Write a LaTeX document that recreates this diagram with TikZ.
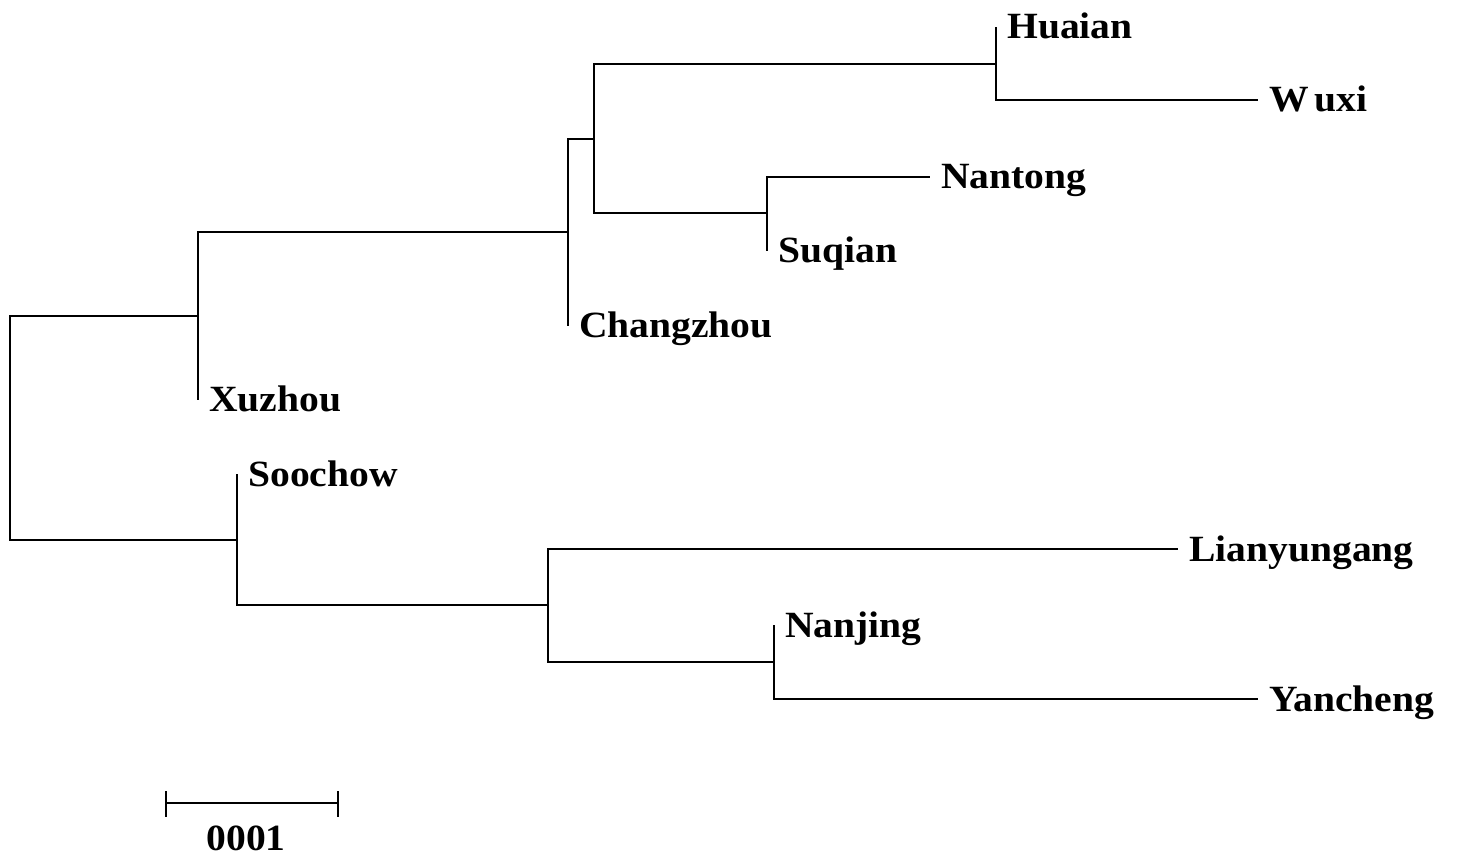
\documentclass[tikz,border=0pt]{standalone}
\usepackage{fontspec}
\setmainfont{Liberation Serif}[FakeStretch=1.07]
\begin{document}
\begin{tikzpicture}[x=1pt,y=-1pt,
  branch/.style={line width=1.9pt,line join=miter},
  lbl/.style={anchor=base west,inner sep=0pt,xshift=11pt,yshift=-12pt,
    font=\fontsize{37}{40}\selectfont\bfseries},
  sclbl/.style={anchor=base,inner sep=0pt,font=\fontsize{37}{40}\selectfont\bfseries}]
\useasboundingbox (0,0) rectangle (1457,858);
% internal nodes (x = distance, y = midpoint of the clade)
\coordinate (R) at (10,428);
\coordinate (A) at (198,316);
\coordinate (B) at (568,232);
\coordinate (C) at (594,139);
\coordinate (D) at (996,64);
\coordinate (E) at (767,213);
\coordinate (F) at (237,540);
\coordinate (G) at (548,605);
\coordinate (H) at (774,662);
% leaf tips
\coordinate (tHuaian) at (996,27);
\coordinate (tWuxi) at (1258,100);
\coordinate (tNantong) at (930,177);
\coordinate (tSuqian) at (767,251);
\coordinate (tChangzhou) at (568,326);
\coordinate (tXuzhou) at (198,400);
\coordinate (tSoochow) at (237,474);
\coordinate (tLianyungang) at (1178,549);
\coordinate (tNanjing) at (774,625);
\coordinate (tYancheng) at (1258,699);
% rectangular branches
\draw[branch] (R) |- (A);
\draw[branch] (R) |- (F);
\draw[branch] (A) |- (B);
\draw[branch] (A) |- (tXuzhou);
\draw[branch] (B) |- (C);
\draw[branch] (B) |- (tChangzhou);
\draw[branch] (C) |- (D);
\draw[branch] (C) |- (E);
\draw[branch] (D) |- (tHuaian);
\draw[branch] (D) |- (tWuxi);
\draw[branch] (E) |- (tNantong);
\draw[branch] (E) |- (tSuqian);
\draw[branch] (F) |- (tSoochow);
\draw[branch] (F) |- (G);
\draw[branch] (G) |- (tLianyungang);
\draw[branch] (G) |- (H);
\draw[branch] (H) |- (tNanjing);
\draw[branch] (H) |- (tYancheng);
% taxon labels
\node[lbl] (nHuaian) at (tHuaian) {Huaian};
\node[lbl] (nWuxi) at (tWuxi) {W\kern6pt uxi};
\node[lbl] (nNantong) at (tNantong) {Nantong};
\node[lbl] (nSuqian) at (tSuqian) {Suqian};
\node[lbl] (nChangzhou) at (tChangzhou) {Changzhou};
\node[lbl] (nXuzhou) at (tXuzhou) {Xuzhou};
\node[lbl] (nSoochow) at (tSoochow) {Soochow};
\node[lbl] (nLianyungang) at (tLianyungang) {Lianyungang};
\node[lbl] (nNanjing) at (tNanjing) {Nanjing};
\node[lbl] (nYancheng) at (tYancheng) {Yancheng};
% scale bar
\coordinate (sL) at (166,803);
\coordinate (sR) at (338,803);
\draw[branch] (sL) -- (sR);
\draw[branch] ([yshift=12pt]sL) -- ([yshift=-14pt]sL);
\draw[branch] ([yshift=12pt]sR) -- ([yshift=-14pt]sR);
\node[sclbl] (scale) at (246,850) {0001};
\end{tikzpicture}
\end{document}
